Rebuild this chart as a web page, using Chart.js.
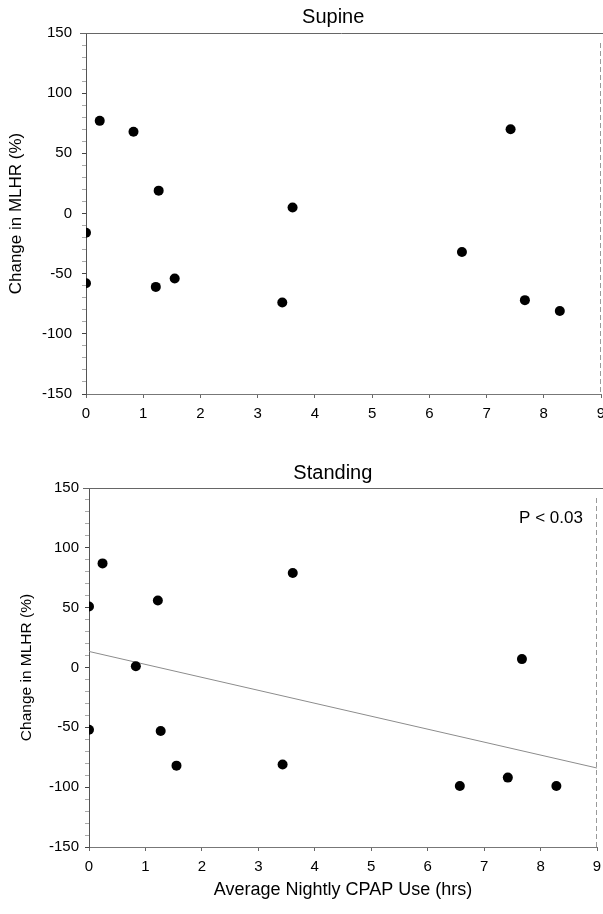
<!DOCTYPE html>
<html><head><meta charset="utf-8">
<script src="https://cdn.jsdelivr.net/npm/chart.js@4/dist/chart.umd.min.js"></script>
<style>
html,body{margin:0;padding:0;background:#fff;}
#wrap{width:603px;height:914px;position:relative;overflow:hidden;}
canvas{position:absolute;left:0;display:block;}
</style></head><body>
<div id="wrap">
<canvas id="topChart" width="603" height="430" style="top:0"></canvas>
<canvas id="botChart" width="603" height="484" style="top:430px"></canvas>
</div>
<script>
// ---- data ----
const cpapHours      = [0.0, 0.0, 0.24, 0.83, 1.22, 1.27, 1.55, 3.43, 3.61, 6.57, 7.42, 7.67, 8.28];
const supineChange   = [-16, -58, 77, 68, -61, 19, -54, -74, 5, -32, 70, -72, -81];
const standingChange = [51, -52, 87, 1, 56, -53, -82, -81, 79, -99, -92, 7, -99];
const trendX = [0, 9];
const trendY = [13.4, -84];
const xTickLabels = [0, 1, 2, 3, 4, 5, 6, 7, 8, 9];
const yTickLabels = [-150, -100, -50, 0, 50, 100, 150];
const pValueText = 'P < 0.03';
const pValuePos = {x: 8.75, y: 125};

const FAM = '"Liberation Sans", Arial, sans-serif';

const framePlugin = {
  id: 'frame',
  beforeDatasetsDraw(chart, args, o) {
    const {ctx, chartArea: a} = chart;
    ctx.save();
    ctx.lineWidth = 1;
    ctx.strokeStyle = '#666';
    ctx.beginPath();
    ctx.moveTo(a.left - 6, a.top + 0.5);
    ctx.lineTo(chart.width, a.top + 0.5);
    ctx.stroke();
    ctx.strokeStyle = '#999';
    ctx.setLineDash([5, 3]);
    ctx.beginPath();
    ctx.moveTo(a.right - 0.5, a.top + 10);
    ctx.lineTo(a.right - 0.5, a.bottom);
    ctx.stroke();
    ctx.restore();
  },
  afterDraw(chart, args, o) {
    const {ctx, chartArea: a} = chart;
    ctx.save();
    ctx.fillStyle = '#000';
    ctx.font = o.titleSize + 'px ' + FAM;
    ctx.textAlign = 'center';
    ctx.textBaseline = 'middle';
    ctx.fillText(o.title, a.left + (a.right - a.left) * o.titleFrac, o.titleY);
    if (o.pText) {
      ctx.font = '17px ' + FAM;
      ctx.textAlign = 'right';
      ctx.fillText(o.pText, chart.scales.x.getPixelForValue(o.pPos.x), chart.scales.y.getPixelForValue(o.pPos.y));
    }
    ctx.restore();
  }
};

function makeChart(id, cfg) {
  const datasets = [{
    type: 'scatter',
    data: cpapHours.map((x, i) => ({x: x, y: cfg.values[i]})),
    backgroundColor: '#000',
    borderWidth: 0,
    pointRadius: 5,
    order: 1
  }];
  if (cfg.trend) {
    datasets.push({
      type: 'line',
      data: trendX.map((x, i) => ({x: x, y: trendY[i]})),
      borderColor: '#8c8c8c',
      borderWidth: 1,
      pointRadius: 0,
      fill: false,
      order: 2
    });
  }
  return new Chart(document.getElementById(id), {
    type: 'scatter',
    data: {datasets},
    options: {
      responsive: false,
      animation: false,
      events: [],
      layout: {autoPadding: false, padding: {left: 0, right: cfg.padRight, top: cfg.padTop, bottom: 0}},
      plugins: {
        legend: {display: false},
        tooltip: {enabled: false},
        title: {display: false},
        frame: {title: cfg.title, titleY: cfg.titleY, titleSize: cfg.titleSize, titleFrac: 0.48,
                pText: cfg.pText, pPos: pValuePos}
      },
      scales: {
        x: {
          type: 'linear', min: 0, max: 9,
          afterFit(s) { s.height = cfg.xH; s.paddingLeft = 0; s.paddingRight = 0; },
          afterBuildTicks(s) { s.ticks = xTickLabels.map(v => ({value: v})); },
          ticks: {color: '#000', font: {family: FAM, size: 15}, padding: cfg.xPad, maxRotation: 0, autoSkip: false},
          grid: {display: true, drawOnChartArea: false, drawTicks: true, tickLength: 4, tickColor: '#666'},
          border: {display: true, color: '#777', width: 1},
          title: {display: !!cfg.xTitle, text: cfg.xTitle || '', color: '#000',
                  font: {family: FAM, size: 18}, padding: {top: 0, bottom: cfg.xTitlePad}}
        },
        y: {
          type: 'linear', min: -150, max: 150,
          afterFit(s) { s.width = cfg.yW; s.paddingTop = 0; s.paddingBottom = 0; },
          ticks: {stepSize: 10, autoSkip: false, color: '#000', font: {family: FAM, size: 15}, padding: cfg.yPad,
                  callback: v => yTickLabels.includes(v) ? String(v) : ''},
          grid: {display: true, drawOnChartArea: false, drawTicks: true, tickLength: 4,
                 tickColor: c => (c.tick && yTickLabels.includes(c.tick.value)) ? '#444' : '#aaa'},
          border: {display: true, color: '#555', width: 1},
          title: {display: true, text: 'Change in MLHR (%)', color: '#000',
                  font: {family: FAM, size: cfg.yTitleSize}, padding: {top: cfg.yTitlePad, bottom: 0}}
        }
      }
    },
    plugins: [framePlugin]
  });
}

makeChart('topChart', {
  values: supineChange, trend: false, title: 'Supine', titleY: 17, titleSize: 20,
  padTop: 33, padRight: 2, xH: 36, yW: 86, xPad: 7, yPad: 10,
  yTitleSize: 17, yTitlePad: 6, xTitle: null
});
makeChart('botChart', {
  values: standingChange, trend: true, title: 'Standing', titleY: 43, titleSize: 20,
  padTop: 58, padRight: 6, xH: 67, yW: 89, xPad: 7, yPad: 6,
  yTitleSize: 15.5, yTitlePad: 17, xTitle: 'Average Nightly CPAP Use (hrs)', xTitlePad: 13,
  pText: pValueText
});
</script>
</body></html>
